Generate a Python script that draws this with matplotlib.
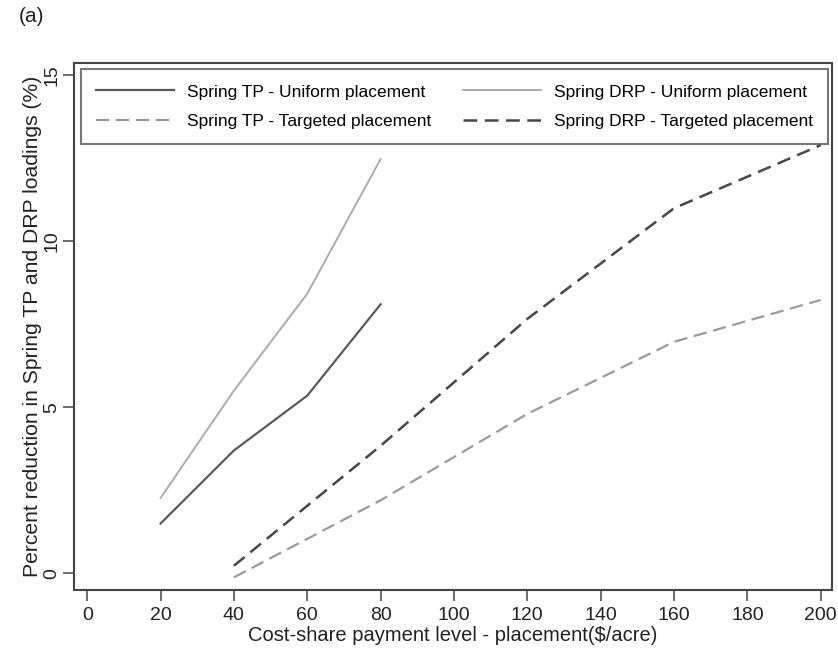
import matplotlib
matplotlib.use('Agg')
import matplotlib.pyplot as plt

plt.rcParams['font.family'] = ['Liberation Sans', 'DejaVu Sans']

# data
x_uniform = [20, 40, 60, 80]
tp_uniform = [1.5, 3.7, 5.35, 8.1]
drp_uniform = [2.27, 5.5, 8.42, 12.47]

x_targeted = [40, 80, 120, 160, 200]
tp_targeted = [-0.12, 2.2, 4.8, 6.97, 8.23]
drp_targeted = [0.23, 3.84, 7.66, 10.99, 12.89]

x_ticks = [0, 20, 40, 60, 80, 100, 120, 140, 160, 180, 200]
y_ticks = [0, 5, 10, 15]

fig = plt.figure(figsize=(8.38, 6.56), dpi=100)
ax = fig.add_axes([0.0883, 0.1006, 0.9042, 0.8038])

ax.plot(x_uniform, tp_uniform, color='#5a5a5a', lw=1.6, label='Spring TP - Uniform placement')
ax.plot(x_targeted, tp_targeted, color='#9a9a9a', lw=1.6, ls=(0, (6, 3)),
        label='Spring TP - Targeted placement')
ax.plot(x_uniform, drp_uniform, color='#ababab', lw=1.4, label='Spring DRP - Uniform placement')
ax.plot(x_targeted, drp_targeted, color='#474747', lw=1.8, ls=(0, (5.5, 3)),
        label='Spring DRP - Targeted placement')

ax.set_xlim(-3.6, 203.0)
ax.set_ylim(-0.5, 15.37)
ax.set_xticks(x_ticks)
ax.set_yticks(y_ticks)
ax.tick_params(axis='both', direction='out', length=8, width=1.2, color='#555555',
               labelsize=14, labelcolor='#222222')
ax.tick_params(axis='x', pad=4)
ax.tick_params(axis='y', pad=2)
for lab in ax.get_yticklabels():
    lab.set_rotation(90)
    lab.set_va('center')

for s in ax.spines.values():
    s.set_color('#444444')
    s.set_linewidth(1.5)

ax.set_xlabel('Cost-share payment level - placement($/acre)', fontsize=14.5, color='#222222', labelpad=2)
ax.set_ylabel('Percent reduction in Spring TP and DRP loadings (%)', fontsize=15.2, color='#222222', labelpad=1)

leg = ax.legend(loc='upper left', bbox_to_anchor=(0.0088, 0.8515, 0.986, 0.136), mode='expand',
                ncol=2, fontsize=12.5, frameon=True, fancybox=False, borderaxespad=0,
                handlelength=4.5, handletextpad=0.75, labelspacing=0.83, borderpad=0.87,
                columnspacing=2.0)
leg.get_frame().set_edgecolor('#555555')
leg.get_frame().set_linewidth(1.5)

fig.text(0.022, 0.975, '(a)', fontsize=15, color='#222222', va='center', ha='left')

fig.savefig('out.png', dpi=100)
